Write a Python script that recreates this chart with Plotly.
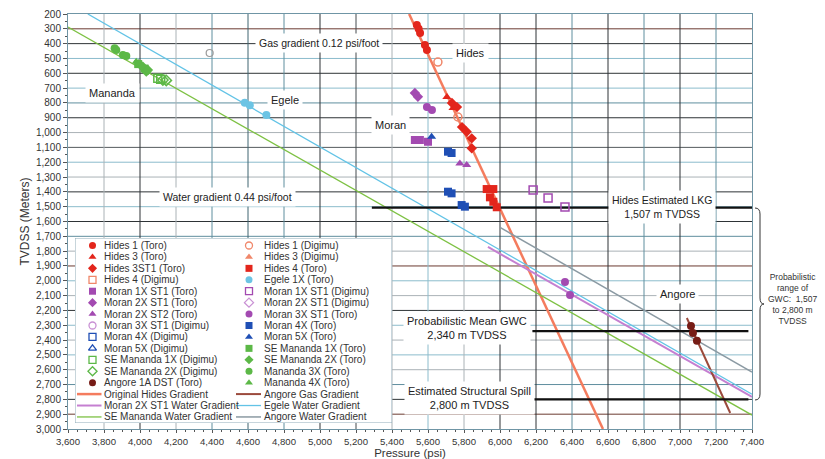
import plotly.graph_objects as go

# ---------------- axis extents ----------------
P_RANGE = [3600, 7400]          # psi
D_RANGE = [3000, 200]           # m TVDSS, deepest at the bottom

# ---------------- pressure measurements (psi, m TVDSS) ----------------
hides1_toro_psi = [5538, 5548, 5556, 5583, 5594]
hides1_toro_m = [274, 300, 328, 409, 443]
hides1_digimu_psi = [5655, 5766]
hides1_digimu_m = [524, 895]
hides3_toro_psi = [5705, 5739]
hides3_toro_m = [760, 834]
hides3st1_toro_psi = [5733, 5761, 5789, 5815, 5843, 5843]
hides3st1_toro_m = [800, 828, 963, 994, 1039, 1106]
hides4_toro_psi = [5926, 5963, 5944, 5963, 5982]
hides4_toro_m = [1381, 1381, 1437, 1467, 1504]
egele1x_toro_psi = [4582, 4610, 4702]
egele1x_toro_m = [799, 815, 881]
moran1x_st1_toro_psi = [5527, 5555, 5600]
moran1x_st1_toro_m = [1050, 1050, 1062]
moran2x_st1_toro_psi = [5527, 5544]
moran2x_st1_toro_m = [733, 758]
moran2x_st2_toro_psi = [5777, 5815]
moran2x_st2_toro_m = [1208, 1219]
moran3x_st1_toro_psi = [5594, 5622, 6361, 6389]
moran3x_st1_toro_m = [828, 848, 2009, 2096]
moran1x_st1_digimu_psi = [6184, 6267, 6361]
moran1x_st1_digimu_m = [1388, 1442, 1502]
moran4x_toro_psi = [5711, 5731, 5711, 5731, 5787, 5805]
moran4x_toro_m = [1129, 1138, 1399, 1410, 1489, 1500]
moran5x_toro_psi = [5620]
moran5x_toro_m = [1028]
se_mananda1x_toro_psi = [3990, 4025]
se_mananda1x_toro_m = [538, 568]
se_mananda2x_toro_psi = [4003, 4016, 4035, 4044]
se_mananda2x_toro_m = [545, 556, 589, 578]
se_mananda1x_digimu_psi = [4099, 4115]
se_mananda1x_digimu_m = [634, 640]
se_mananda2x_digimu_psi = [4127, 4146]
se_mananda2x_digimu_m = [645, 648]
mananda3x_toro_psi = [3859, 3868, 3905, 3924]
mananda3x_toro_m = [431, 443, 477, 483]
mananda4x_toro_psi = [3979, 3992]
mananda4x_toro_m = [522, 530]
angore1a_dst_psi = [7061, 7072, 7094]
angore1a_dst_m = [2305, 2353, 2404]
unassigned_psi = [4387]
unassigned_m = [463]

# ---------------- gradient lines (end points) ----------------
orig_hides_grad_psi = [5495, 6572]
orig_hides_grad_m = [200, 3000]
angore_gas_grad_psi = [7038, 7279]
angore_gas_grad_m = [2251, 2892]
moran_water_grad_psi = [5933, 7400]
moran_water_grad_m = [1772, 2784]
egele_water_grad_psi = [3710, 7400]
egele_water_grad_m = [200, 2765]
se_mananda_water_grad_psi = [3600, 7400]
se_mananda_water_grad_m = [288, 2906]
angore_water_grad_psi = [6000, 7400]
angore_water_grad_m = [1640, 2616]

# ---------------- contacts ----------------
lkg_m, lkg_psi = 1507, [5288, 7400]
gwc_m, gwc_psi = 2340, [6180, 7380]
spill_m, spill_psi = 2800, [6180, 7380]

RED, SALMON = "#e3261c", "#f0876a"
PURPLE, LPURPLE = "#a34ab1", "#c991d4"
BLUE, GREEN, LBLUE, BROWN = "#1f4fb5", "#5cb847", "#6cc4e4", "#761c16"

# name, psi, m, symbol, colour  (column 1 then column 2 of the key)
markers_col1 = [
    ("Hides 1 (Toro)", hides1_toro_psi, hides1_toro_m, "circle", RED),
    ("Hides 3 (Toro)", hides3_toro_psi, hides3_toro_m, "triangle-up", RED),
    ("Hides 3ST1 (Toro)", hides3st1_toro_psi, hides3st1_toro_m, "diamond", RED),
    ("Hides 4 (Digimu)", [], [], "square-open", SALMON),
    ("Moran 1X ST1 (Toro)", moran1x_st1_toro_psi, moran1x_st1_toro_m, "square", PURPLE),
    ("Moran 2X ST1 (Toro)", moran2x_st1_toro_psi, moran2x_st1_toro_m, "diamond", PURPLE),
    ("Moran 2X ST2 (Toro)", moran2x_st2_toro_psi, moran2x_st2_toro_m, "triangle-up", PURPLE),
    ("Moran 3X ST1 (Digimu)", [], [], "circle-open", LPURPLE),
    ("Moran 4X (Digimu)", [], [], "square-open", BLUE),
    ("Moran 5X (Digimu)", [], [], "triangle-up-open", BLUE),
    ("SE Mananda 1X (Digimu)", se_mananda1x_digimu_psi, se_mananda1x_digimu_m, "square-open", GREEN),
    ("SE Mananda 2X (Digimu)", se_mananda2x_digimu_psi, se_mananda2x_digimu_m, "diamond-open", GREEN),
    ("Angore 1A DST (Toro)", angore1a_dst_psi, angore1a_dst_m, "circle", BROWN),
]
markers_col2 = [
    ("Hides 1 (Digimu)", hides1_digimu_psi, hides1_digimu_m, "circle-open", SALMON),
    ("Hides 3 (Digimu)", [], [], "triangle-up", SALMON),
    ("Hides 4 (Toro)", hides4_toro_psi, hides4_toro_m, "square", RED),
    ("Egele 1X (Toro)", egele1x_toro_psi, egele1x_toro_m, "circle", LBLUE),
    ("Moran 1X ST1 (Digimu)", moran1x_st1_digimu_psi, moran1x_st1_digimu_m, "square-open", PURPLE),
    ("Moran 2X ST1 (Digimu)", [], [], "diamond-open", LPURPLE),
    ("Moran 3X ST1 (Toro)", moran3x_st1_toro_psi, moran3x_st1_toro_m, "circle", PURPLE),
    ("Moran 4X (Toro)", moran4x_toro_psi, moran4x_toro_m, "square", BLUE),
    ("Moran 5X (Toro)", moran5x_toro_psi, moran5x_toro_m, "triangle-up", BLUE),
    ("SE Mananda 1X (Toro)", se_mananda1x_toro_psi, se_mananda1x_toro_m, "square", GREEN),
    ("SE Mananda 2X (Toro)", se_mananda2x_toro_psi, se_mananda2x_toro_m, "diamond", GREEN),
    ("Mananda 3X (Toro)", mananda3x_toro_psi, mananda3x_toro_m, "circle", GREEN),
    ("Mananda 4X (Toro)", mananda4x_toro_psi, mananda4x_toro_m, "triangle-up", GREEN),
]
# name, psi, m, colour, width
lines_col1 = [
    ("Original Hides Gradient", orig_hides_grad_psi, orig_hides_grad_m, "#f47c5e", 2.5),
    ("Moran 2X ST1 Water Gradient", moran_water_grad_psi, moran_water_grad_m, "#c57fd1", 2),
    ("SE Mananda Water Gradient", se_mananda_water_grad_psi, se_mananda_water_grad_m, "#7dc143", 1.3),
]
lines_col2 = [
    ("Angore Gas Gradient", angore_gas_grad_psi, angore_gas_grad_m, "#9b4a3c", 2),
    ("Egele Water Gradient", egele_water_grad_psi, egele_water_grad_m, "#62c3e6", 1.3),
    ("Angore Water Gradient", angore_water_grad_psi, angore_water_grad_m, "#8b9aa3", 1.5),
]

# grid line colours
DARK, TEAL, LIGHT, GRAY, RUST = "#2e3336", "#5f8e9e", "#8cbccc", "#aab2b6", "#6b3a30"
h_grid = [(300, RUST), (400, DARK), (500, LIGHT), (600, DARK), (700, LIGHT), (800, TEAL),
          (900, DARK), (1000, GRAY), (1100, "#555b5e"), (1200, LIGHT), (1300, GRAY),
          (1400, DARK), (1500, LIGHT), (1600, DARK), (1700, TEAL), (1800, GRAY),
          (1900, RUST), (2000, LIGHT), (2100, GRAY), (2200, DARK), (2300, LIGHT),
          (2400, GRAY), (2500, LIGHT), (2600, GRAY), (2700, TEAL), (2800, DARK), (2900, RUST)]
v_grid = [(3800, GRAY), (4000, DARK), (4200, GRAY), (4400, TEAL), (4600, "#3f6470"),
          (4800, TEAL), (5000, DARK), (5200, "#444a4e"), (5400, GRAY), (5600, LIGHT),
          (5800, GRAY), (6000, DARK), (6200, DARK), (6400, TEAL), (6600, DARK),
          (6800, TEAL), (7000, DARK), (7200, TEAL)]

# ---------------- page geometry (px) ----------------
W, H = 825, 459
ML, MR, MT, MB = 68, 73, 14, 30
PW, PH = W - ML - MR, H - MT - MB


def px_to_paper(px, py):
    return (px - ML) / PW, (H - MB - py) / PH


fig = go.Figure()

for d, c in h_grid:
    fig.add_shape(type="line", xref="x", yref="y", x0=P_RANGE[0], x1=P_RANGE[1],
                  y0=d, y1=d, line=dict(color=c, width=1), layer="below")
for p, c in v_grid:
    fig.add_shape(type="line", xref="x", yref="y", x0=p, x1=p,
                  y0=D_RANGE[0], y1=D_RANGE[1], line=dict(color=c, width=1), layer="below")

# gradient lines
for name, xs, ys, col, w in lines_col1 + lines_col2:
    fig.add_trace(go.Scatter(x=xs, y=ys, mode="lines", name=name,
                             line=dict(color=col, width=w), showlegend=False))

# contact lines
for depth, xs in [(lkg_m, lkg_psi), (gwc_m, gwc_psi), (spill_m, spill_psi)]:
    fig.add_trace(go.Scatter(x=xs, y=[depth, depth], mode="lines",
                             line=dict(color="#111111", width=2.2), showlegend=False))

# pressure points
for name, xs, ys, sym, col in markers_col1 + markers_col2:
    if not xs:
        continue
    fig.add_trace(go.Scatter(x=xs, y=ys, mode="markers", name=name, showlegend=False,
                             marker=dict(symbol=sym, color=col, size=8,
                                         line=dict(color=col, width=1.5 if "open" in sym else 0))))
fig.add_trace(go.Scatter(x=unassigned_psi, y=unassigned_m, mode="markers", showlegend=False,
                         marker=dict(symbol="circle-open", color="#9a9a9a", size=7,
                                     line=dict(color="#9a9a9a", width=1.2))))

# ---------------- key (drawn on a pixel-unit helper axis) ----------------
KX0, KX1, KY0, KY1 = 75, 392, 238, 423
fig.add_shape(type="rect", xref="x2", yref="y2", x0=KX0, x1=KX1, y0=KY0, y1=KY1,
              fillcolor="white", line=dict(color="#8fabb8", width=1), layer="below")
ROW0, ROWH = 245.5, 11.43
cols = [(markers_col1, lines_col1, 92.5, 77, 101.5, 103),
        (markers_col2, lines_col2, 249, 236, 261, 262.5)]
for mk, ln, sx, lx0, lx1, tx in cols:
    ys = [ROW0 + i * ROWH for i in range(len(mk))]
    fig.add_trace(go.Scatter(
        x=[sx] * len(mk), y=ys, mode="markers", xaxis="x2", yaxis="y2", showlegend=False,
        marker=dict(symbol=[m[3] for m in mk], color=[m[4] for m in mk], size=7,
                    line=dict(color=[m[4] for m in mk],
                              width=[1.3 if "open" in m[3] else 0 for m in mk]))))
    for i, m in enumerate(mk):
        fig.add_annotation(x=tx, y=ys[i], xref="x2", yref="y2", text=m[0], showarrow=False,
                           xanchor="left", yanchor="middle", borderpad=0,
                           font=dict(size=10, color="#333333"))
    for j, l in enumerate(ln):
        yy = ROW0 + (len(mk) + j) * ROWH
        fig.add_trace(go.Scatter(x=[lx0, lx1], y=[yy, yy], mode="lines", xaxis="x2", yaxis="y2",
                                 showlegend=False, line=dict(color=l[3], width=l[4])))
        fig.add_annotation(x=tx, y=yy, xref="x2", yref="y2", text=l[0], showarrow=False,
                           xanchor="left", yanchor="middle", borderpad=0,
                           font=dict(size=10, color="#333333"))

# ---------------- labels on the plot ----------------
labels = [
    ("Gas gradient 0.12 psi/foot", 4993, 396, 10.5),
    ("Hides", 5838, 461, 11),
    ("Mananda", 3848, 731, 11),
    ("Egele", 4807, 780, 11),
    ("Moran", 5391, 949, 11),
    ("Water gradient 0.44 psi/foot", 4487, 1435, 10.5),
    ("Hides Estimated LKG<br>1,507 m TVDSS", 6901, 1502, 10.5),
    ("Probabilistic Mean GWC<br>2,340 m TVDSS", 5819, 2319, 11),
    ("Estimated Structural Spill<br>2,800 m TVDSS", 5828, 2791, 11),
    ("Angore", 6987, 2089, 11),
]
for txt, x, y, fs in labels:
    fig.add_annotation(x=x, y=y, xref="x", yref="y", text=txt, showarrow=False,
                       xanchor="center", yanchor="middle",
                       bgcolor="white", borderpad=3, font=dict(size=fs, color="#222222"))

rx, ry = px_to_paper(792, 299)
fig.add_annotation(x=rx, y=ry, xref="paper", yref="paper", showarrow=False,
                   xanchor="center", yanchor="middle",
                   text="Probabilistic<br>range of<br>GWC:  1,507<br>to 2,800 m<br>TVDSS",
                   font=dict(size=8.5, color="#333333"), align="center")

# curly brace spanning the GWC range
pts = [("M", 755, 208), ("Q", 760, 208, 760, 214), ("L", 760, 298), ("Q", 760, 304, 764, 304),
       ("Q", 760, 304, 760, 310), ("L", 760, 394), ("Q", 760, 400, 755, 400)]
path = ""
for seg in pts:
    coords = seg[1:]
    conv = []
    for k in range(0, len(coords), 2):
        a, b = px_to_paper(coords[k], coords[k + 1])
        conv.append(f"{a:.5f},{b:.5f}")
    path += seg[0] + " " + " ".join(conv) + " "
fig.add_shape(type="path", xref="paper", yref="paper", path=path,
              line=dict(color="#333333", width=1), layer="above")

kx0, ky1 = px_to_paper(KX0, KY0)
kx1, ky0 = px_to_paper(KX1, KY1)

fig.update_layout(
    width=W, height=H,
    margin=dict(l=ML, r=MR, t=MT, b=MB, autoexpand=False),
    paper_bgcolor="white", plot_bgcolor="white",
    font=dict(family="Liberation Sans, Arial, sans-serif", color="#333333"),
    xaxis=dict(range=P_RANGE, dtick=200, tick0=3600, tickformat=",d", showgrid=False,
               zeroline=False, showline=True, linecolor="#6f95a5", mirror=True,
               ticks="outside", ticklen=3, tickcolor="#555555", tickfont=dict(size=9.6),
               minor=dict(dtick=50, ticks="outside", ticklen=2, tickcolor="#555555", showgrid=False),
               title=dict(text="Pressure (psi)", font=dict(size=11.5), standoff=4),
               automargin=False),
    yaxis=dict(range=D_RANGE, dtick=100, tick0=200, tickformat=",d", showgrid=False,
               zeroline=False, showline=True, linecolor="#6f95a5", mirror=True,
               ticks="outside", ticklen=4, tickcolor="#555555", tickfont=dict(size=10),
               minor=dict(dtick=50, ticks="outside", ticklen=2, tickcolor="#555555", showgrid=False),
               title=dict(text="TVDSS (Meters)", font=dict(size=12), standoff=3),
               automargin=False),
    xaxis2=dict(domain=[kx0, kx1], range=[KX0, KX1], visible=False, anchor="y2", fixedrange=True),
    yaxis2=dict(domain=[ky0, ky1], range=[KY1, KY0], visible=False, anchor="x2", fixedrange=True),
    showlegend=False,
)

fig.write_html("out.html")
